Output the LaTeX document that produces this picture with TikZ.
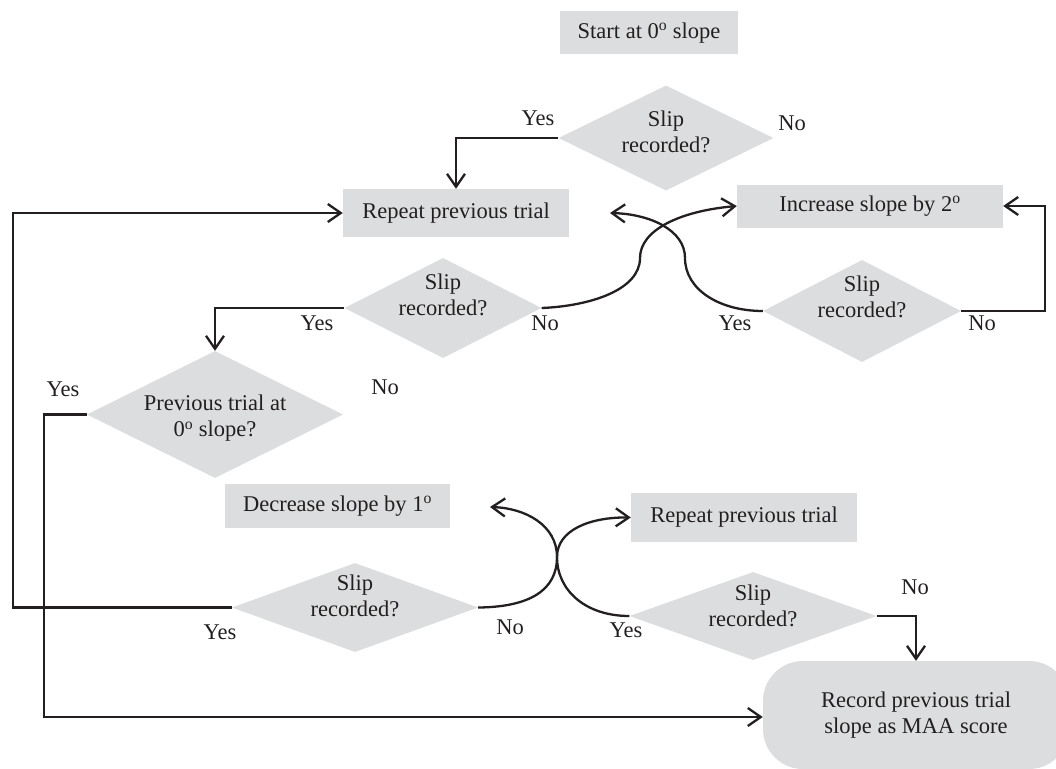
\documentclass[tikz,border=0pt]{standalone}
\usepackage{fontspec}
\setmainfont{Liberation Serif}
\usetikzlibrary{arrows.meta,shapes.geometric}
\definecolor{boxgray}{RGB}{220,221,222}
\definecolor{ink}{RGB}{35,31,32}
\newcommand{\degsup}{\textsuperscript{o}}
\begin{document}
\begin{tikzpicture}[x=1pt,y=-1pt,
  every node/.style={font=\fontsize{22.5}{26.5}\selectfont, text=ink},
  procbox/.style={fill=boxgray, draw=none, inner sep=0pt, align=center},
  dia/.style={shape=diamond, fill=boxgray, draw=none, inner sep=0pt},
  txt/.style={align=center, inner sep=0pt},
  lbl/.style={inner sep=0pt},
  conn/.style={draw=ink, line width=2.3pt, -{Straight Barb[length=13pt,width=18pt]}}]
\useasboundingbox (0,0) rectangle (1056,768);
\fill[white] (0,0) rectangle (1056,768);
\clip (0,0) rectangle (1056,768);

% process boxes
\node[procbox, minimum width=178pt, minimum height=43pt] (start) at (649,33) {Start at 0\degsup{} slope};
\node[procbox, minimum width=226pt, minimum height=48pt] (r1) at (456,213) {Repeat previous trial};
\node[procbox, minimum width=266pt, minimum height=43pt] (incr) at (870,206) {Increase slope by 2\degsup};
\node[procbox, minimum width=225pt, minimum height=44pt] (dec) at (337.5,506) {Decrease slope by 1\degsup};
\node[procbox, minimum width=226pt, minimum height=49pt] (r2) at (744,517.5) {Repeat previous trial};
\node[procbox, rounded corners=40pt, minimum width=306pt, minimum height=108pt] (rec) at (916,715) {Record previous trial\\slope as MAA score};

% decision diamonds
\node[dia, minimum width=215pt, minimum height=105pt] (d1) at (666,138) {};
\node[dia, minimum width=197pt, minimum height=100pt] (d2) at (443,308) {};
\node[dia, minimum width=198pt, minimum height=102pt] (d3) at (862,311) {};
\node[dia, minimum width=256pt, minimum height=127pt] (d4) at (215,414.5) {};
\node[dia, minimum width=246pt, minimum height=89pt] (d5) at (355,607.5) {};
\node[dia, minimum width=247pt, minimum height=88pt] (d6) at (753,616) {};

\node[txt] (t1) at (666,132) {Slip\\recorded?};
\node[txt] (t2) at (443,295) {Slip\\recorded?};
\node[txt] (t3) at (862,297) {Slip\\recorded?};
\node[txt] (t4) at (215,418) {Previous trial at\\0\degsup{} slope?};
\node[txt] (t5) at (355,596) {Slip\\recorded?};
\node[txt] (t6) at (753,606) {Slip\\recorded?};

% labels
\node[lbl] (y1) at (538,118) {Yes};
\node[lbl] (n1) at (792,123) {No};
\node[lbl] (y2) at (317,323) {Yes};
\node[lbl] (n2) at (545,323) {No};
\node[lbl] (y3) at (735,323) {Yes};
\node[lbl] (n3) at (982,323) {No};
\node[lbl] (y4) at (63,389) {Yes};
\node[lbl] (n4) at (385,387) {No};
\node[lbl] (y5) at (220,632) {Yes};
\node[lbl] (n5) at (510,627) {No};
\node[lbl] (y6) at (626,630) {Yes};
\node[lbl] (n6) at (915,587) {No};

% free ends of curved connectors
\coordinate (e2) at (610,213);
\coordinate (e4) at (490,507);

% straight connectors
\draw[conn] (d1.west) -| (r1.north);
\draw[conn] (d2.west) -| (d4.north);
\draw[conn] (d3.east) -- ++(84,0) |- (incr.east);
\draw[conn] (d5.west) -- ++(-219,0) |- (r1.west);
\draw[conn] (d4.west) -- ++(-43,0) |- ([yshift=-2pt]rec.west);
\draw[conn] (d6.east) -| (rec.north);

% curved connectors
\draw[conn] (d2.east) .. controls (590,306) and (640,290) .. (640,258)
  .. controls (640,230) and (680,211) .. (incr.west);
\draw[conn] (d3.west) .. controls (720,311) and (685,290) .. (685,258)
  .. controls (685,230) and (650,214) .. (e2);
\draw[conn] (d5.east) .. controls (530,607) and (557,590) .. (557,557)
  .. controls (557,530) and (590,517) .. (r2.west);
\draw[conn] (d6.west) .. controls (585,616) and (557,590) .. (557,557)
  .. controls (557,525) and (525,508) .. (e4);
\end{tikzpicture}
\end{document}
